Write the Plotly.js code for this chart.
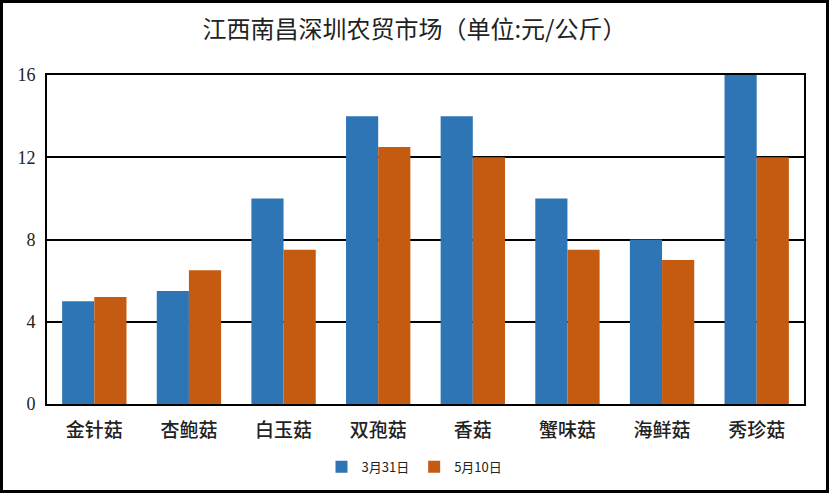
<!DOCTYPE html>
<html>
<head>
<meta charset="utf-8">
<script src="https://cdn.plot.ly/plotly-3.0.1.min.js"></script>
<style>
html,body{margin:0;padding:0;background:#fff;}
#wrap{position:relative;width:829px;height:493px;}
#chart{width:829px;height:493px;}
#border{position:absolute;left:0;top:0;width:829px;height:493px;box-sizing:border-box;border:3px solid #000;pointer-events:none;}
</style>
</head>
<body>
<div id="wrap"><div id="chart"></div><div id="border"></div></div>
<script>
const categories = ["金针菇","杏鲍菇","白玉菇","双孢菇","香菇","蟹味菇","海鲜菇","秀珍菇"];
const seriesNames = ["3月31日","5月10日"];
const mar31 = [5, 5.5, 10, 14, 14, 10, 8, 16];
const may10 = [5.2, 6.5, 7.5, 12.5, 12, 7.5, 7, 12];
const yTicks = [0, 4, 8, 12, 16];

const cjk = '"Noto Sans CJK SC", sans-serif';
const serif = '"Liberation Serif", "DejaVu Serif", serif';

const traces = [
  {type:'bar', name:seriesNames[0], x:categories, y:mar31, marker:{color:'#2E75B6'}},
  {type:'bar', name:seriesNames[1], x:categories, y:may10, marker:{color:'#C55A11'}}
];

const layout = {
  width:829, height:493,
  margin:{l:47, r:25, t:75, b:89, autoexpand:false},
  paper_bgcolor:'#fff', plot_bgcolor:'#fff',
  barmode:'group', bargap:0.32, bargroupgap:0,
  title:{text:'江西南昌深圳农贸市场（单位:元/公斤）', x:0.5, xanchor:'center', y:0.94, yanchor:'middle',
         font:{family:cjk, size:24, color:'#222', weight:400}},
  xaxis:{showline:true, mirror:true, linecolor:'#000', linewidth:2, showgrid:false, ticks:'',
         ticklabelstandoff:8, automargin:false,
         tickfont:{family:cjk, size:19, color:'#222', weight:500}, fixedrange:true},
  yaxis:{range:[0,16], tickvals:yTicks, ticktext:yTicks.map(String), showline:true, mirror:true,
         linecolor:'#000', linewidth:2, showgrid:true, gridcolor:'#000', gridwidth:2, zeroline:false,
         ticks:'', ticklen:0, ticklabelstandoff:6, automargin:false,
         tickfont:{family:serif, size:18, color:'#222'}, fixedrange:true},
  legend:{orientation:'h', x:0.5, xanchor:'center', xref:'container', y:0.053, yanchor:'middle', yref:'container',
          font:{family:cjk, size:13, color:'#222'}, itemwidth:12, tracegroupgap:0},
  showlegend:true
};

Plotly.newPlot('chart', traces, layout, {displayModeBar:false, staticPlot:true});
</script>
</body>
</html>
